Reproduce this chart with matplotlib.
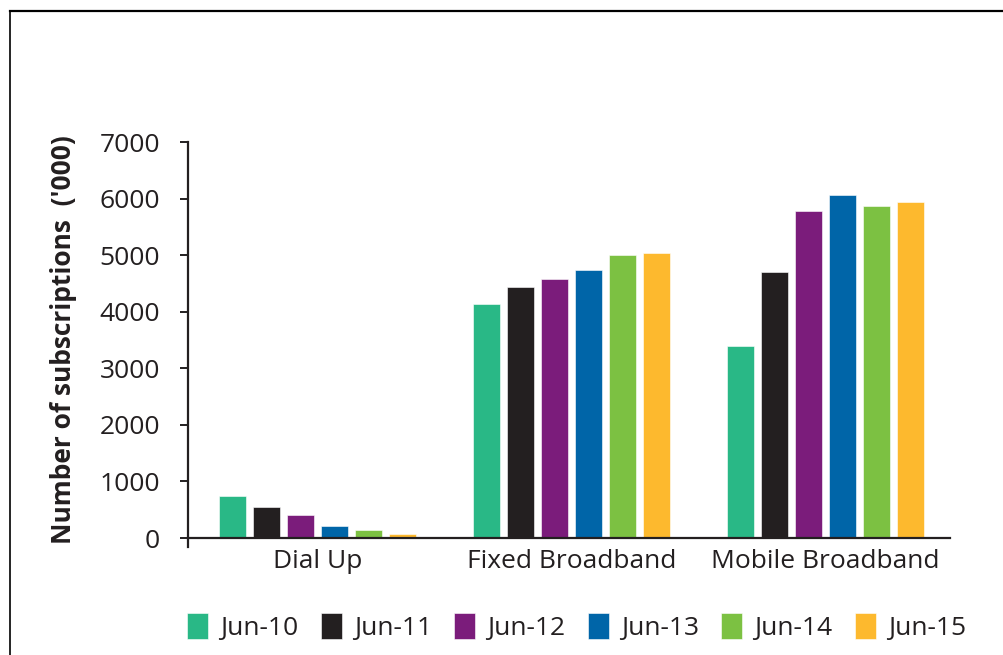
import numpy as np
import matplotlib
matplotlib.use("Agg")
import matplotlib.pyplot as plt
from matplotlib.lines import Line2D

plt.rcParams["font.family"] = ["Open Sans", "DejaVu Sans"]

categories = ["Dial Up", "Fixed Broadband", "Mobile Broadband"]
periods = ["Jun-10", "Jun-11", "Jun-12", "Jun-13", "Jun-14", "Jun-15"]

jun10 = [742, 4144, 3402]
jun11 = [547, 4444, 4703]
jun12 = [412, 4573, 5774]
jun13 = [218, 4744, 6068]
jun14 = [147, 5003, 5868]
jun15 = [77, 5032, 5939]

COLORS = ["#29b886", "#231f20", "#7b1c7b", "#0065a8", "#7cc142", "#fdb92e"]
TEXT = "#231f20"

series = [jun10, jun11, jun12, jun13, jun14, jun15]

fig = plt.figure(figsize=(10.04, 6.55), dpi=100)
ax = fig.add_axes([0.187, 0.1786, 0.759, 0.6046])

x = np.arange(len(categories))
pitch = 0.134
width = 0.107
for i, (vals, label) in enumerate(zip(series, periods)):
    offs = (i - 2.5) * pitch
    ax.bar(x + offs, vals, width=width, color=COLORS[i], label=label,
           edgecolor="white", linewidth=0.4)

ax.set_xlim(-0.51, 2.49)
ax.set_ylim(0, 7000)
ax.set_yticks(np.arange(0, 7001, 1000))
ax.set_xticks(x)
ax.set_xticklabels(categories)

for side in ("top", "right"):
    ax.spines[side].set_visible(False)
for side in ("left", "bottom"):
    ax.spines[side].set_linewidth(1.6)
    ax.spines[side].set_color(TEXT)
ax.spines["left"].set_bounds(-150, 7000)

ax.tick_params(axis="y", direction="out", length=6, width=1.4, color=TEXT,
               labelsize=19, labelcolor=TEXT, pad=14)
ax.tick_params(axis="x", length=0, labelsize=19, labelcolor=TEXT, pad=8)

ax.set_ylabel("Number of subscriptions  ('000)", fontsize=19, fontweight="bold",
              color=TEXT, labelpad=16)

# legend below the plot
ax.legend(loc="upper center", bbox_to_anchor=(0.51, -0.13), ncol=6, frameon=False,
          fontsize=19, handlelength=0.8, handleheight=1.1, handletextpad=0.45,
          columnspacing=0.85, labelcolor=TEXT)

# partial border on left and top
fig.add_artist(Line2D([10 / 1004, 10 / 1004], [0, 1 - 11 / 655],
                      transform=fig.transFigure, color="black", linewidth=1.2))
fig.add_artist(Line2D([10 / 1004, 1], [1 - 11 / 655, 1 - 11 / 655],
                      transform=fig.transFigure, color="black", linewidth=1.6))

fig.savefig("out.png", dpi=100)
